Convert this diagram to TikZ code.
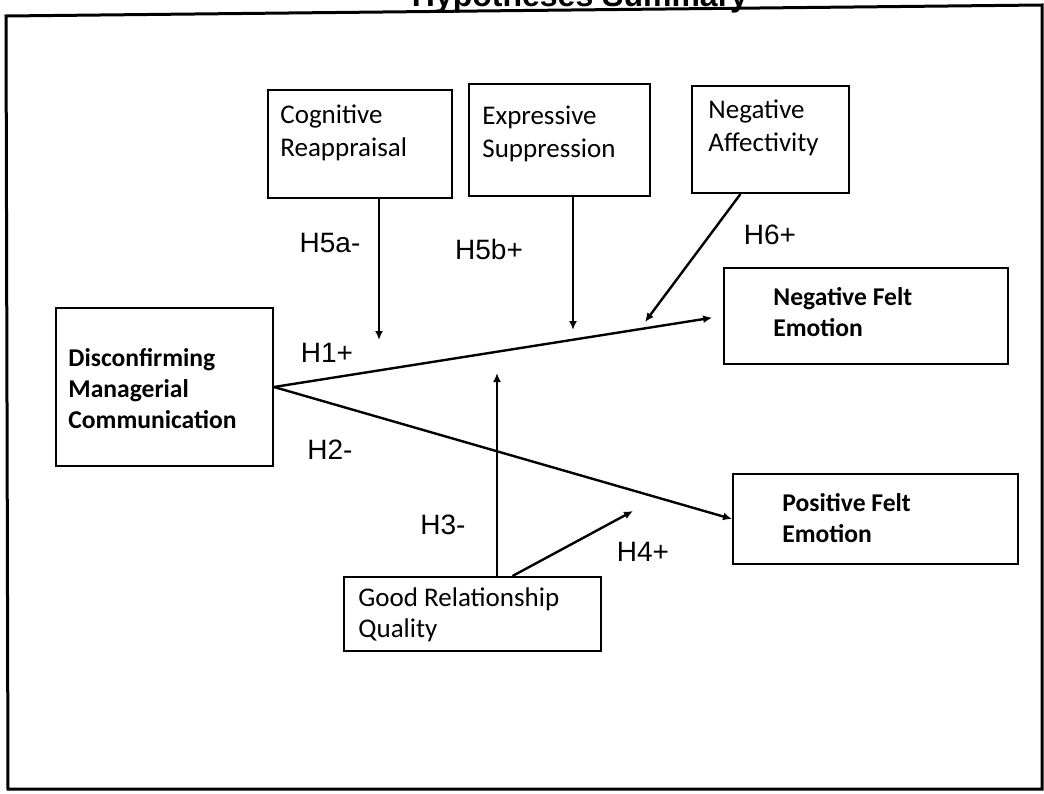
\documentclass[tikz,border=0pt]{standalone}
\usepackage{fontspec}
\setmainfont{Carlito}
\newfontfamily\hypfont{Liberation Sans}
\usetikzlibrary{positioning,arrows.meta}

\begin{document}
\begin{tikzpicture}[x=0.5pt,y=-0.5pt,
  box/.style={draw,line width=1pt,inner sep=0pt,anchor=north west},
  txt/.style={inner sep=0pt,align=left,font=\fontsize{13.5}{16.5}\selectfont},
  btxt/.style={inner sep=0pt,align=left,font=\fontsize{12.8}{15.5}\selectfont\bfseries},
  hyp/.style={inner sep=0pt,font=\hypfont\fontsize{14}{16}\selectfont},
  arr/.style={line width=1.2pt,-{Latex[length=4.5pt,width=4pt]}}]
\path[use as bounding box,fill=white] (0,0) rectangle (1044,793);
\node[inner sep=0pt,anchor=base,font=\hypfont\bfseries\fontsize{16}{18}\selectfont] (title) at (580,6) {Hypotheses Summary};
\draw[line width=1.5pt] (6,16) -- (1042,5) -- (1042,789) -- (8,789) -- cycle;

\node[box,minimum width=92pt,minimum height=54pt] (cr) at (267,89) {};
\node[box,minimum width=90.5pt,minimum height=56pt] (es) at (468,83) {};
\node[box,minimum width=78.5pt,minimum height=53.5pt] (na) at (691,85) {};
\node[box,minimum width=108.5pt,minimum height=79pt] (dmc) at (55,307) {};
\node[box,minimum width=142pt,minimum height=48pt] (nfe) at (723,267) {};
\node[box,minimum width=142.5pt,minimum height=45pt] (pfe) at (732,473) {};
\node[box,minimum width=128.5pt,minimum height=37pt] (grq) at (343,576) {};

\node[txt,below right=7.5pt and 6.5pt of cr.north west] (crt) {Cognitive\\Reappraisal};
\node[txt,below right=11.5pt and 7pt of es.north west] (est) {Expressive\\Suppression};
\node[txt,below right=7pt and 8.5pt of na.north west] (nat) {Negative\\Affectivity};
\node[btxt,below right=20.5pt and 6.5pt of dmc.north west] (dmct) {Disconfirming\\Managerial\\Communication};
\node[btxt,below right=10pt and 25pt of nfe.north west] (nfet) {Negative Felt\\Emotion};
\node[btxt,below right=10pt and 25pt of pfe.north west] (pfet) {Positive Felt\\Emotion};
\node[txt,below right=5.5pt and 7.5pt of grq.north west,font=\fontsize{13.5}{15.5}\selectfont] (grqt) {Good Relationship\\Quality};

\coordinate (e5a) at (379,340);
\coordinate (e5b) at (573,330);
\coordinate (e6) at (645,322);
\coordinate (e3) at (497,373);
\coordinate (e4) at (633,511);

\draw[arr,shorten >=5.5pt] (dmc.east) -- (nfe.west);
\draw[arr] (dmc.east) -- (pfe.west);
\draw[arr,line width=1pt] (cr.south -| e5a) -- (e5a);
\draw[arr,line width=1pt] (es.south -| e5b) -- (e5b);
\draw[arr] ([xshift=-15pt]na.south) -- (e6);
\draw[arr,line width=1pt] (grq.north -| e3) -- (e3);
\draw[arr] ([xshift=20pt]grq.north) -- (e4);

\node[hyp] (h1) at (327,353) {H1+};
\node[hyp] (h2) at (330,450) {H2-};
\node[hyp] (h3) at (443,525) {H3-};
\node[hyp] (h4) at (643,552) {H4+};
\node[hyp] (h5a) at (330,243) {H5a-};
\node[hyp] (h5b) at (489,249) {H5b+};
\node[hyp] (h6) at (770,235) {H6+};
\end{tikzpicture}
\end{document}
